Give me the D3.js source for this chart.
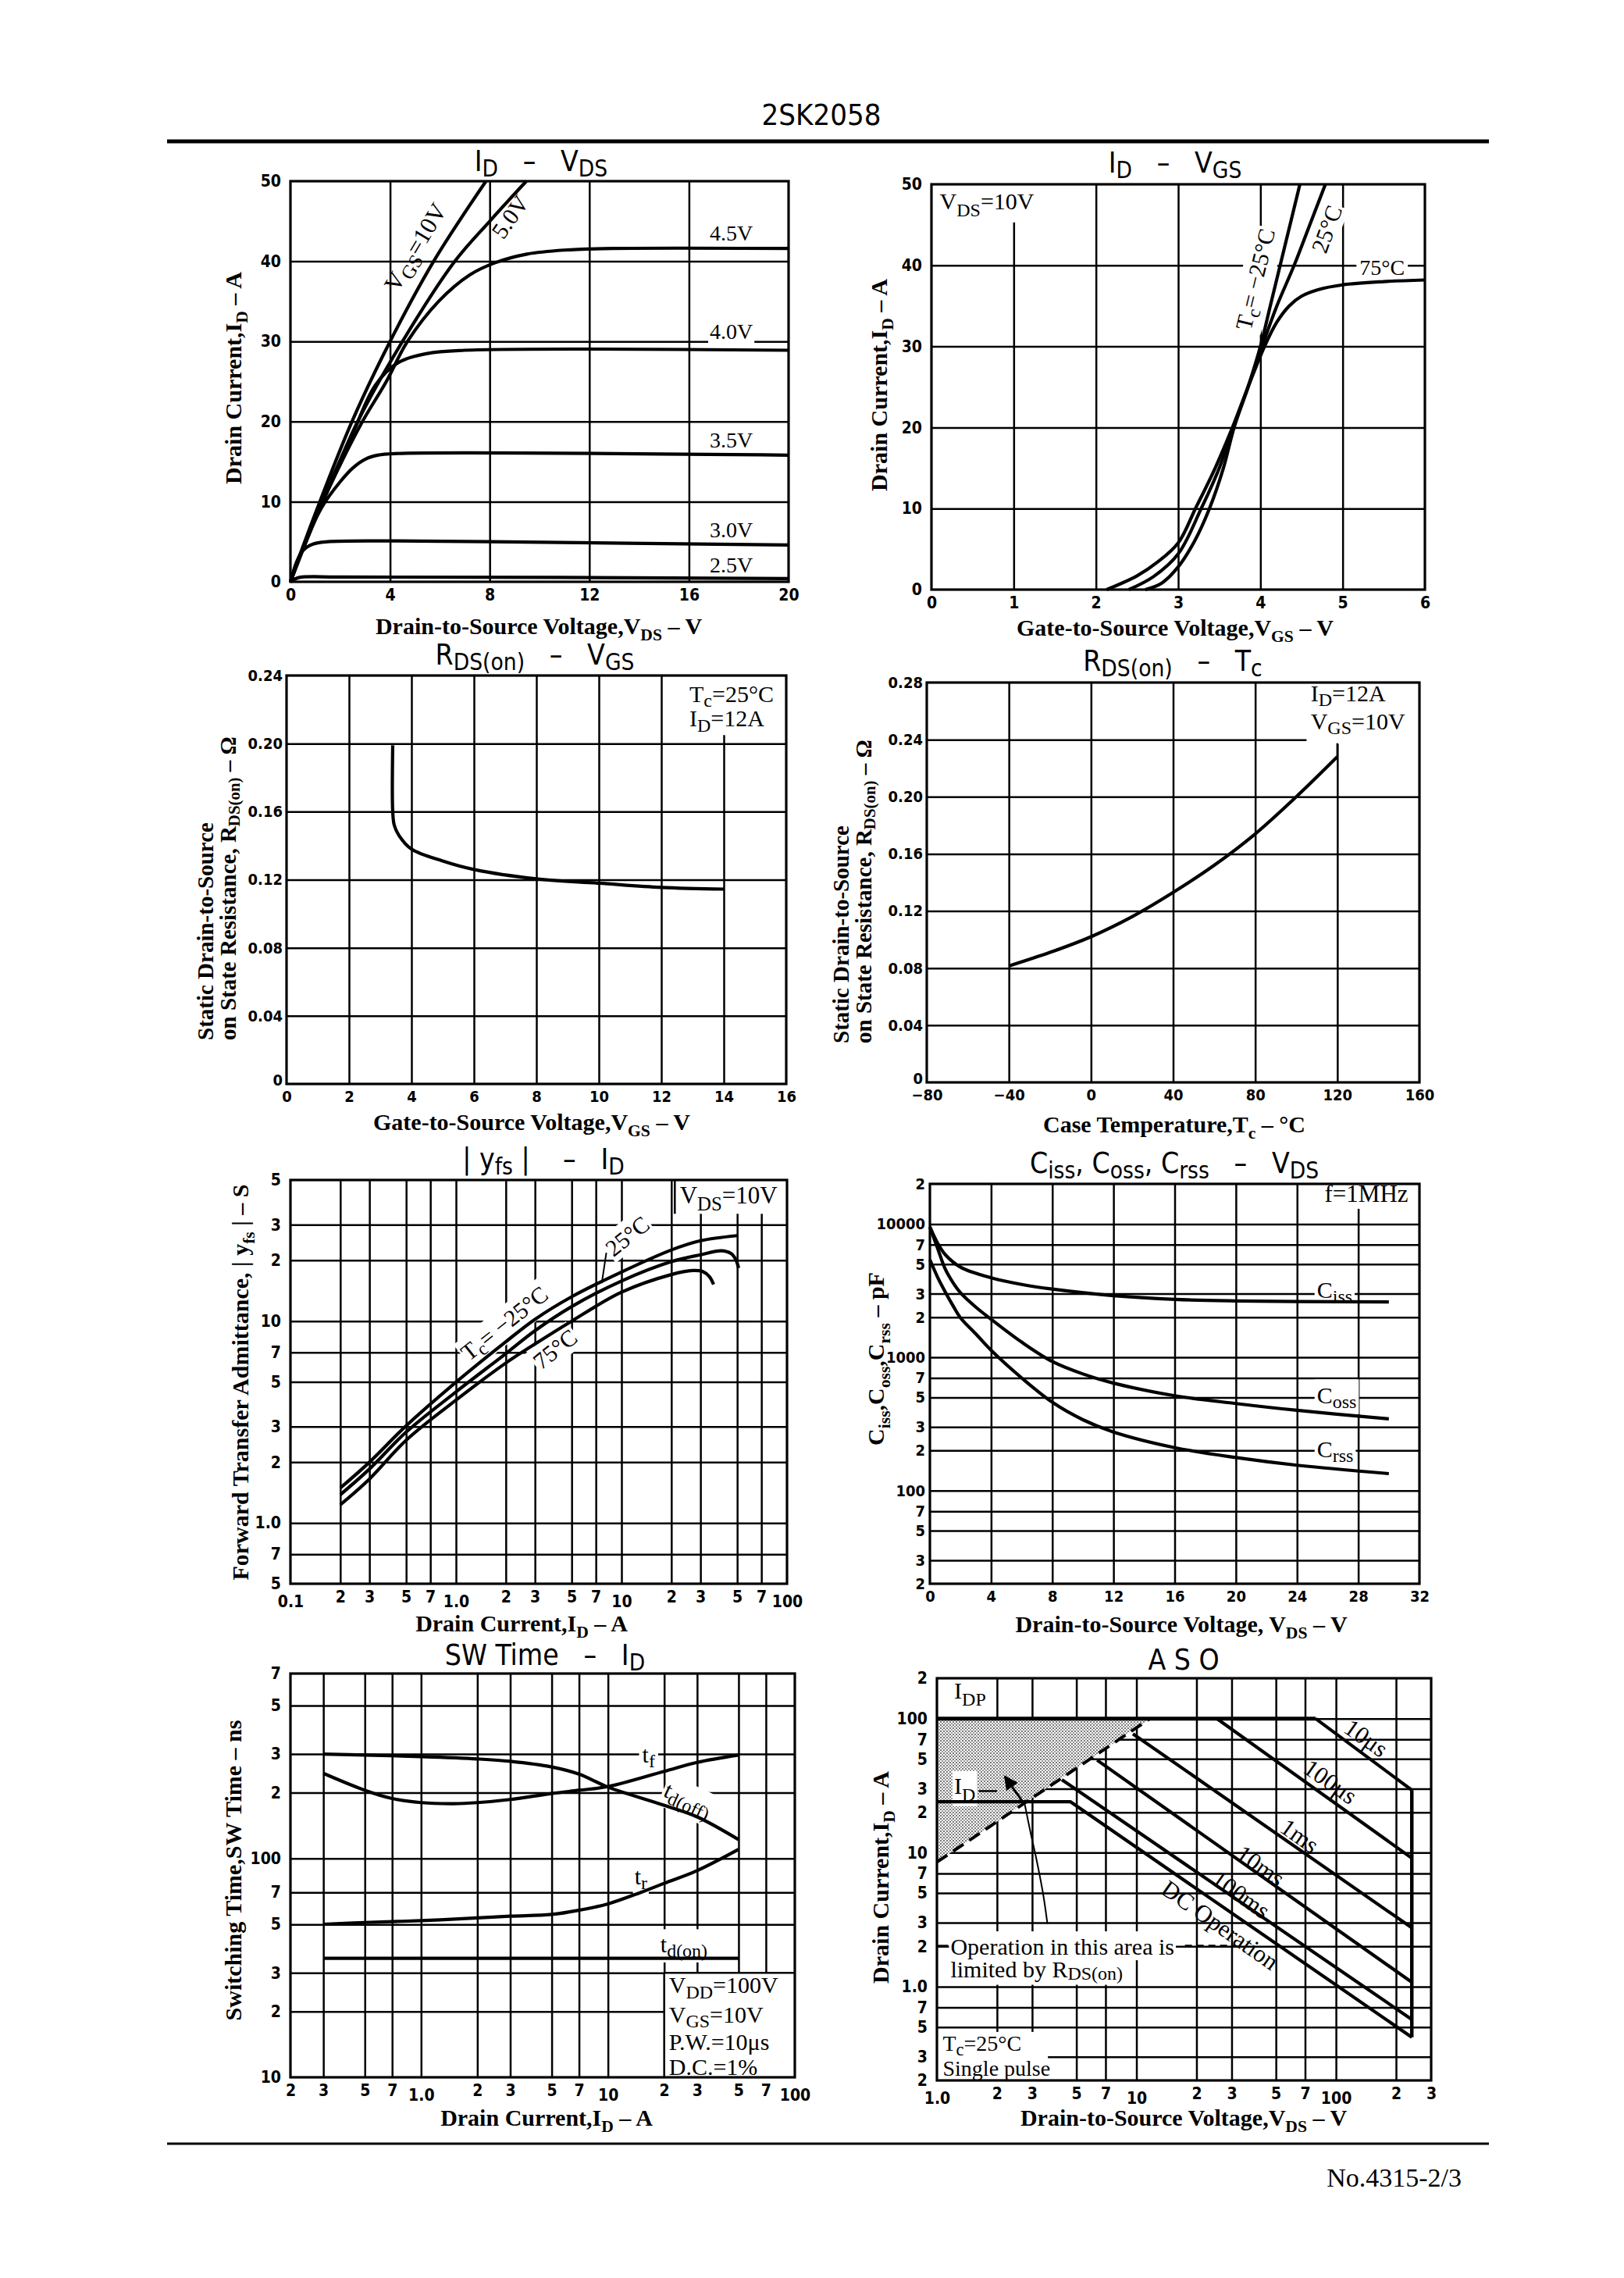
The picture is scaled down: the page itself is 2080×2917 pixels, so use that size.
<!DOCTYPE html>
<html><head><meta charset="utf-8">
<script src="https://cdn.jsdelivr.net/npm/d3@7"></script>
<style>body{margin:0;background:#fff}</style>
</head><body>
<script>
// ================= DATA =================
// Chart 1: ID – VDS
const c1XTicks=[0,4,8,12,16,20];
const c1YTicks=[0,10,20,30,40,50];
const c1Vgs10=[[0,0],[0.5,4.4],[1.18,10],[2.47,20],[4,30],[5.75,40],[7.85,50]];
const c1Vgs5=[[0,0],[0.6,4.8],[1.3,10],[2.7,20],[4.5,30],[6.6,40],[8,45],[9.47,50]];
const c1Vgs45=[[0,0],[0.6,4.8],[1.3,10],[2.8,19.5],[3.85,25],[4.7,30],[5.95,35],[7.2,38.3],[8.2,39.8],[9.5,40.9],[11,41.4],[13,41.6],[20,41.6]];
const c1Vgs40=[[0,0],[0.6,4.9],[1.25,10],[2.5,18.5],[3.4,24.5],[4.3,27.3],[5.5,28.5],[7,28.9],[20,28.9]];
const c1Vgs35=[[0,0],[0.6,5],[1.3,9.5],[2,12.5],[2.5,14.2],[3,15.3],[3.5,15.8],[4.2,16],[20,15.8]];
const c1Vgs30=[[0,0],[0.25,2.5],[0.5,3.9],[0.9,4.7],[1.5,5.0],[4,5.1],[8,5.0],[20,4.6]];
const c1Vgs25=[[0,0],[0.3,0.5],[2,0.6],[20,0.4]];
// Chart 2: ID – VGS
const c2XTicks=[0,1,2,3,4,5,6];
const c2YTicks=[0,10,20,30,40,50];
const c2Tm25=[[2.6,0],[2.8,0.8],[3.0,2.8],[3.2,6],[3.38,10],[3.55,15],[3.68,20],[3.85,25],[4.0,30],[4.12,35],[4.24,40],[4.36,45],[4.48,50]];
const c2T25=[[2.4,0],[2.7,1.6],[3.0,4.4],[3.28,10],[3.5,15],[3.67,20],[3.85,25],[4.02,30],[4.2,35],[4.41,40],[4.6,45],[4.79,50]];
const c2T75=[[2.13,0],[2.5,1.7],[2.75,3.4],[3.0,5.75],[3.21,10],[3.45,15],[3.66,20],[3.85,25],[4.05,30],[4.2,33],[4.35,35],[4.5,36.2],[4.7,37],[5,37.6],[5.5,38],[6,38.2]];
// Chart 3: RDS(on) – VGS
const c3XTicks=[0,2,4,6,8,10,12,14,16];
const c3YTicks=[0,0.04,0.08,0.12,0.16,0.20,0.24];
const c3YLabels=["0","0.04","0.08","0.12","0.16","0.20","0.24"];
const c3Rds=[[3.4,0.199],[3.4,0.16],[3.45,0.152],[3.6,0.146],[4,0.138],[5,0.131],[6,0.126],[8,0.1205],[10,0.118],[12,0.1155],[14,0.1145]];
// Chart 4: RDS(on) – Tc
const c4XTicks=[-80,-40,0,40,80,120,160];
const c4XLabels=["−80","−40","0","40","80","120","160"];
const c4YTicks=[0,0.04,0.08,0.12,0.16,0.20,0.24,0.28];
const c4YLabels=["0","0.04","0.08","0.12","0.16","0.20","0.24","0.28"];
const c4Rds=[[-40,0.0815],[-20,0.091],[0,0.102],[20,0.116],[40,0.133],[60,0.152],[80,0.174],[100,0.2],[120,0.228]];
// Chart 5: |yfs| – ID
const c5XTicks=[0.1,0.2,0.3,0.5,0.7,1,2,3,5,7,10,20,30,50,70,100];
const c5XLabels=["0.1","2","3","5","7","1.0","2","3","5","7","10","2","3","5","7","100"];
const c5YTicks=[0.5,0.7,1,2,3,5,7,10,20,30,50];
const c5YLabels=["5","7","1.0","2","3","5","7","10","2","3","5"];
const c5Tm25=[[0.2,1.49],[0.3,2.0],[0.5,3.03],[1,4.98],[2,7.9],[3,10.2],[5,13.2],[10,17.5],[20,22.5],[30,25],[50,26.5]];
const c5T25=[[0.2,1.38],[0.3,1.85],[0.5,2.82],[1,4.46],[2,6.9],[3,8.96],[5,11.8],[10,15.8],[20,19.7],[30,21.3],[40,22.3],[46,21.6],[49,20.2],[51,18.3]];
const c5T75=[[0.2,1.23],[0.3,1.65],[0.5,2.57],[1,4.06],[2,6.2],[3,7.7],[5,10],[10,13.9],[20,17],[27,17.8],[31,17.6],[34,16.6],[36,15.2]];
// Chart 6: Ciss, Coss, Crss – VDS
const c6XTicks=[0,4,8,12,16,20,24,28,32];
const c6YTicks=[20,30,50,70,100,200,300,500,700,1000,2000,3000,5000,7000,10000,20000];
const c6YLabels=["2","3","5","7","100","2","3","5","7","1000","2","3","5","7","10000","2"];
const c6Ciss=[[0,9500],[0.5,7200],[1,5900],[2,4750],[4,3950],[6,3520],[8,3250],[12,2900],[16,2720],[20,2650],[24,2620],[30,2600]];
const c6Coss=[[0,9500],[0.5,6600],[1,4600],[1.5,3650],[2,3050],[3,2380],[4,1930],[6,1300],[8,930],[10,750],[12,640],[16,515],[20,450],[24,400],[30,345]];
const c6Crss=[[0,5400],[0.5,4000],[1,3100],[1.5,2450],[2,1980],[3,1500],[4,1130],[6,700],[8,460],[10,340],[12,275],[16,210],[20,177],[24,155],[30,134]];
// Chart 7: SW Time – ID
const c7XTicks=[0.2,0.3,0.5,0.7,1,2,3,5,7,10,20,30,50,70,100];
const c7XLabels=["2","3","5","7","1.0","2","3","5","7","10","2","3","5","7","100"];
const c7YTicks=[10,20,30,50,70,100,200,300,500,700];
const c7YLabels=["10","2","3","5","7","100","2","3","5","7"];
const c7Tdoff=[[0.3,300],[0.5,297],[1,292],[2,285],[3,278],[5,262],[7,243],[10,212],[20,175],[30,155],[50,122]];
const c7Tf=[[0.3,245],[0.5,205],[0.7,188],[1,180],[1.5,178],[2,180],[3,186],[5,198],[7,205],[10,213],[20,250],[30,275],[50,297]];
const c7Tr=[[0.3,50],[0.5,51],[1,52],[2,53.5],[3,54.5],[5,55.5],[7,58],[10,62],[15,70],[20,77],[30,88],[50,110]];
const c7Tdon=[[0.3,35],[50,35]];
// Chart 8: ASO
const c8XTicks=[1,2,3,5,7,10,20,30,50,70,100,200,300];
const c8XLabels=["1.0","2","3","5","7","10","2","3","5","7","100","2","3"];
const c8YTicks=[0.2,0.3,0.5,0.7,1,2,3,5,7,10,20,30,50,70,100,200];
const c8YLabels=["2","3","5","7","1.0","2","3","5","7","10","2","3","5","7","100","2"];
const c8Idp=[[1,100],[79,100]];
const c810us=[[79,100],[240,29.3]];
const c8100us=[[25.3,100],[240,9.1]];
const c81ms=[[9.6,77],[240,2.75]];
const c810ms=[[6.35,49],[240,1.08]];
const c8100ms=[[4.23,35],[240,0.57]];
const c8Dc=[[1,24],[4.66,24],[240,0.42]];
const c8Vdss=[[240,29.3],[240,0.42]];
const c8RdsLimit=[[1,8.5],[11.7,100]];
const c8Shade=[[1,100],[11.7,100],[1,8.5]];
const c8Arrow=[[3.58,2.95],[3.4,5],[3.15,9],[2.95,14],[2.76,22.7]];

// ================= RENDER =================
const F_TICK='"Liberation Sans Narrow","DejaVu Sans Condensed","Liberation Sans",sans-serif';
const F_SERIF='"Liberation Serif","DejaVu Serif",serif';
const F_TITLE='"Liberation Sans Narrow","DejaVu Sans Condensed","Liberation Sans",sans-serif';

const svg=d3.select("body").append("svg").attr("width",2080).attr("height",2917).style("display","block");
svg.append("rect").attr("width",2080).attr("height",2917).attr("fill","#fff");
const defs=svg.append("defs");
const pat=defs.append("pattern").attr("id","stip").attr("width",4).attr("height",4).attr("patternUnits","userSpaceOnUse");
pat.append("rect").attr("width",4).attr("height",4).attr("fill","#fff");
pat.append("rect").attr("width",2).attr("height",2).attr("fill","#777");
pat.append("rect").attr("x",2).attr("y",2).attr("width",2).attr("height",2).attr("fill","#999");
defs.append("marker").attr("id","arr").attr("viewBox","0 0 10 10").attr("refX",9).attr("refY",5)
  .attr("markerWidth",7).attr("markerHeight",6).attr("orient","auto")
  .append("path").attr("d","M0,0L10,5L0,10z").attr("fill","#000");

function rich(parent,x,y,segs,o){
  const size=o.size;
  const t=parent.append("text").attr("x",x).attr("y",y)
    .attr("font-family",o.family).attr("font-size",size)
    .attr("font-weight",o.weight||"normal").attr("text-anchor",o.anchor||"start")
    .attr("fill","#000").style("white-space","pre");
  if(o.rotate) t.attr("transform",`rotate(${o.rotate},${x},${y})`);
  if(o.ls) t.attr("letter-spacing",o.ls);
  if(o.db) t.attr("dominant-baseline",o.db);
  let cur=0;
  segs.forEach(s=>{
    let txt=s,mode=null;
    if(Array.isArray(s)){txt=s[0];mode=s[1];}
    const target=mode==="sub"?size*(o.subShift||0.3):0;
    const ts=t.append("tspan").text(txt);
    if(target-cur!==0) ts.attr("dy",target-cur);
    if(mode) ts.attr("font-size",size*(o.subScale||0.8));
    cur=target;
  });
  return t;
}

function buildChart(c){
  const root=svg.append("g");
  const Ly={grid:root.append("g"),bg:root.append("g"),curves:root.append("g"),frame:root.append("g"),text:root.append("g")};
  const x=c.x.range([c.L,c.R]), y=c.y.range([c.B,c.T]);
  const w=c.R-c.L,h=c.B-c.T;
  const styleGrid=g=>{g.select(".domain").remove();g.selectAll(".tick line").attr("stroke","#000").attr("stroke-width",c.gw||2.5);g.selectAll(".tick text").remove();};
  Ly.grid.append("g").attr("transform",`translate(0,${c.B})`)
    .call(d3.axisBottom(x).tickValues(c.xGrid).tickSize(-h).tickFormat(()=>"")).call(styleGrid);
  Ly.grid.append("g").attr("transform",`translate(${c.L},0)`)
    .call(d3.axisLeft(y).tickValues(c.yGrid).tickSize(-w).tickFormat(()=>"")).call(styleGrid);
  Ly.frame.append("rect").attr("x",c.L).attr("y",c.T).attr("width",w).attr("height",h)
    .attr("fill","none").attr("stroke","#000").attr("stroke-width",3.2);
  const fs=c.tfs||21;
  const xa=Ly.text.append("g").attr("transform",`translate(0,${c.B})`)
    .call(d3.axisBottom(x).tickValues(c.xTicks).tickFormat((d,i)=>c.xLabels?c.xLabels[i]:String(d)).tickSize(0).tickPadding(9));
  xa.select(".domain").remove();
  xa.attr("font-family",F_TICK).attr("font-size",fs);
  xa.selectAll("text").attr("font-weight","bold").attr("fill","#000");
  if(c.xMajor) xa.selectAll(".tick").filter(d=>c.xMajor.includes(d)).select("text").attr("dy","0.98em");
  const ya=Ly.text.append("g").attr("transform",`translate(${c.L},0)`)
    .call(d3.axisLeft(y).tickValues(c.yTicks).tickFormat((d,i)=>c.yLabels?c.yLabels[i]:String(d)).tickSize(0).tickPadding(c.ypad||12));
  ya.select(".domain").remove();
  ya.attr("font-family",F_TICK).attr("font-size",fs);
  ya.selectAll("text").attr("font-weight","bold").attr("fill","#000");
  if(c.yZeroUp) ya.selectAll(".tick").filter(d=>d===c.yTicks[0]).select("text").attr("dy","0.05em");
  const line=d3.line().x(d=>x(d[0])).y(d=>y(d[1])).curve(d3.curveCatmullRom.alpha(0.5));
  const straight=d3.line().x(d=>x(d[0])).y(d=>y(d[1]));
  const ch={x,y,Ly,c};
  ch.curve=(data,o={})=>Ly.curves.append("path").attr("d",(o.straight?straight:line)(data))
    .attr("fill",o.fill||"none").attr("stroke",o.stroke||"#000").attr("stroke-width",o.w||4.2)
    .attr("stroke-dasharray",o.dash||null).attr("stroke-linejoin","round").attr("stroke-linecap",o.cap||"butt")
    .attr("marker-end",o.marker||null);
  ch.label=(xv,yv,segs,o={})=>{
    const px=x(xv),py=y(yv);
    const t=rich(Ly.text,px,py,segs,Object.assign({family:F_SERIF,size:30},o));
    if(o.bg!==false){
      const b=t.node().getBBox();const p=o.pad??2;
      const r=Ly.bg.append("rect").attr("x",b.x-p).attr("y",b.y-p).attr("width",b.width+2*p).attr("height",b.height+2*p).attr("fill","#fff");
      if(o.rotate) r.attr("transform",`rotate(${o.rotate},${px},${py})`);
    }
    return t;
  };
  ch.box=(x0,y0,x1,y1)=>Ly.bg.append("rect").attr("x",Math.min(x(x0),x(x1))).attr("y",Math.min(y(y0),y(y1)))
    .attr("width",Math.abs(x(x1)-x(x0))).attr("height",Math.abs(y(y1)-y(y0))).attr("fill","#fff");
  ch.seg=(p1,p2,wid,dash)=>Ly.frame.append("line").attr("x1",x(p1[0])).attr("y1",y(p1[1])).attr("x2",x(p2[0])).attr("y2",y(p2[1]))
    .attr("stroke","#000").attr("stroke-width",wid||2.5).attr("stroke-dasharray",dash||null);
  ch.angle=(p1,p2)=>Math.atan2(y(p2[1])-y(p1[1]),x(p2[0])-x(p1[0]))*180/Math.PI;
  return ch;
}
const lin=d=>d3.scaleLinear().domain(d);
const lg=d=>d3.scaleLog().domain(d);

const T_OPT={family:F_TITLE,size:37,anchor:"middle",subScale:0.8,subShift:0.18};
const AX_OPT={family:F_SERIF,size:30,weight:"bold",anchor:"middle",subScale:0.72,subShift:0.25};
const AX_V=(extra)=>Object.assign({},AX_OPT,{rotate:-90},extra||{});

// ---------- Header / footer ----------
rich(svg,1052,160,["2SK2058"],{family:F_TITLE,size:38,anchor:"middle"});
svg.append("line").attr("x1",214).attr("x2",1907).attr("y1",181).attr("y2",181).attr("stroke","#000").attr("stroke-width",5);
svg.append("line").attr("x1",214).attr("x2",1907).attr("y1",2745).attr("y2",2745).attr("stroke","#000").attr("stroke-width",3);
rich(svg,1872,2800,["No.4315-2/3"],{family:F_SERIF,size:34,anchor:"end"});

// ---------- Chart 1 ----------
{
const ch=buildChart({L:372,T:232,R:1010,B:745,x:lin([0,20]),y:lin([0,50]),
  xGrid:[4,8,12,16],yGrid:[10,20,30,40],xTicks:c1XTicks,yTicks:c1YTicks});
[c1Vgs10,c1Vgs5,c1Vgs45,c1Vgs40,c1Vgs35,c1Vgs30,c1Vgs25].forEach(d=>ch.curve(d));
const cl={anchor:"middle",size:28};
ch.label(17.7,42.6,["4.5V"],cl);
ch.label(17.7,30.3,["4.0V"],cl);
ch.label(17.7,16.8,["3.5V"],cl);
ch.label(17.7,5.6,["3.0V"],cl);
ch.label(17.7,1.2,["2.5V"],cl);
ch.label(5.0,41.8,["V",["GS","sub"],"=10V"],{anchor:"middle",db:"central",size:31,rotate:ch.angle([4,30],[7.85,50]),bg:false});
ch.label(8.8,45.6,["5.0V"],{anchor:"middle",db:"central",size:30,rotate:-55,bg:false});
rich(svg,693,219,["I",["D","sub"],"   –   V",["DS","sub"]],T_OPT);
rich(svg,690,812,["Drain-to-Source Voltage,V",["DS","sub"]," – V"],AX_OPT);
rich(svg,309,484,["Drain Current,I",["D","sub"]," – A"],AX_V());
}
// ---------- Chart 2 ----------
{
const ch=buildChart({L:1193,T:236,R:1825,B:755,x:lin([0,6]),y:lin([0,50]),
  xGrid:[1,2,3,4,5],yGrid:[10,20,30,40],xTicks:c2XTicks,yTicks:c2YTicks});
[c2Tm25,c2T25,c2T75].forEach(d=>ch.curve(d));
ch.box(0,50,1.3,45.3);
ch.label(0.1,46.9,["V",["DS","sub"],"=10V"],{bg:false});
ch.label(3.93,38.3,["T",["c","sub"],"= −25°C"],{anchor:"middle",db:"central",rotate:ch.angle([4.0,30],[4.48,50])});
ch.label(4.8,44.5,["25°C"],{anchor:"middle",db:"central",rotate:-70});
ch.label(5.48,39.8,["75°C"],{anchor:"middle",db:"central",size:28,pad:4});
rich(svg,1505,221,["I",["D","sub"],"   –   V",["GS","sub"]],T_OPT);
rich(svg,1505,814,["Gate-to-Source Voltage,V",["GS","sub"]," – V"],AX_OPT);
rich(svg,1136,493,["Drain Current,I",["D","sub"]," – A"],AX_V());
}
// ---------- Chart 3 ----------
{
const ch=buildChart({L:367,T:865,R:1007,B:1388,x:lin([0,16]),y:lin([0,0.24]),
  xGrid:[2,4,6,8,10,12,14],yGrid:[0.04,0.08,0.12,0.16,0.20],xTicks:c3XTicks,yTicks:c3YTicks,yLabels:c3YLabels,tfs:20,ypad:5,yZeroUp:true});
ch.curve(c3Rds);
ch.box(12.8,0.24,16,0.205);
ch.label(12.9,0.2245,["T",["c","sub"],"=25°C"],{bg:false,size:30,subShift:0.22});
ch.label(12.9,0.2100,["I",["D","sub"],"=12A"],{bg:false,size:30,subShift:0.22});
rich(svg,685,851,["R",["DS(on)","sub"],"   –   V",["GS","sub"]],T_OPT);
rich(svg,681,1447,["Gate-to-Source Voltage,V",["GS","sub"]," – V"],AX_OPT);
rich(svg,273,1332,["Static Drain-to-Source"],AX_V({anchor:"start",size:29}));
rich(svg,302,1332,["on State Resistance, R",["DS(on)","sub"]," – Ω"],AX_V({anchor:"start",size:29,subShift:0.18}));
}
// ---------- Chart 4 ----------
{
const ch=buildChart({L:1187,T:874,R:1818,B:1386,x:lin([-80,160]),y:lin([0,0.28]),
  xGrid:[-40,0,40,80,120],yGrid:[0.04,0.08,0.12,0.16,0.20,0.24],xTicks:c4XTicks,xLabels:c4XLabels,yTicks:c4YTicks,yLabels:c4YLabels,tfs:20,ypad:5,yZeroUp:true});
ch.curve(c4Rds);
ch.box(105,0.28,160,0.237);
ch.label(107,0.2668,["I",["D","sub"],"=12A"],{bg:false,size:30,subShift:0.2});
ch.label(107,0.2472,["V",["GS","sub"],"=10V"],{bg:false,size:30,subShift:0.2});
ch.seg([120,0.2375],[120,0.228],2.5);
rich(svg,1502,859,["R",["DS(on)","sub"],"   –   T",["c","sub"]],T_OPT);
rich(svg,1504,1450,["Case Temperature,T",["c","sub"]," – °C"],AX_OPT);
rich(svg,1087,1336,["Static Drain-to-Source"],AX_V({anchor:"start",size:29}));
rich(svg,1116,1336,["on State Resistance, R",["DS(on)","sub"]," – Ω"],AX_V({anchor:"start",size:29,subShift:0.18}));
}
// ---------- Chart 5 ----------
{
const ch=buildChart({L:372,T:1511,R:1008,B:2028,x:lg([0.1,100]),y:lg([0.5,50]),
  xGrid:[0.2,0.3,0.5,0.7,1,2,3,5,7,10,20,30,50,70],yGrid:[0.7,1,2,3,5,7,10,20,30],
  xTicks:c5XTicks,xLabels:c5XLabels,xMajor:[0.1,1,10,100],yTicks:c5YTicks,yLabels:c5YLabels});
[c5Tm25,c5T25,c5T75].forEach(d=>ch.curve(d));
ch.box(21,50,100,34);
ch.seg([21,50],[21,34],2.5);
ch.label(22.5,38.3,["V",["DS","sub"],"=10V"],{bg:false,size:31});
const a5=ch.angle([1,4.98],[3,10.2]);
ch.label(1.95,9.8,["T",["c","sub"],"= −25°C"],{anchor:"middle",db:"central",rotate:a5});
ch.label(3.95,7.3,["75°C"],{anchor:"middle",db:"central",rotate:a5});
ch.label(10.8,26.5,["25°C"],{anchor:"middle",db:"central",rotate:a5});
ch.seg([8.1,21.8],[7.6,15.4],2);
rich(svg,696,1497,["| y",["fs","sub"]," |    –   I",["D","sub"]],T_OPT);
rich(svg,668,2089,["Drain Current,I",["D","sub"]," – A"],AX_OPT);
rich(svg,318,1770,["Forward Transfer Admittance, | y",["fs","sub"]," | – S"],AX_V());
}
// ---------- Chart 6 ----------
{
const ch=buildChart({L:1191,T:1516,R:1818,B:2028,x:lin([0,32]),y:lg([20,20000]),
  xGrid:[4,8,12,16,20,24,28],yGrid:[30,50,70,100,200,300,500,700,1000,2000,3000,5000,7000,10000],
  xTicks:c6XTicks,yTicks:c6YTicks,yLabels:c6YLabels,tfs:20,ypad:6});
[c6Ciss,c6Coss,c6Crss].forEach(d=>ch.curve(d));
ch.box(25.6,20000,32,13000);
ch.label(25.8,14700,["f=1MHz"],{bg:false,size:31});
ch.label(25.3,3250,["C",["iss","sub"]],{db:"central",pad:3});
ch.label(25.3,525,["C",["oss","sub"]],{db:"central",pad:3});
ch.label(25.3,207,["C",["rss","sub"]],{db:"central",pad:3});
rich(svg,1504,1502,["C",["iss","sub"],", C",["oss","sub"],", C",["rss","sub"],"   –   V",["DS","sub"]],T_OPT);
rich(svg,1513,2090,["Drain-to-Source Voltage, V",["DS","sub"]," – V"],AX_OPT);
rich(svg,1132,1740,["C",["iss","sub"],",C",["oss","sub"],",C",["rss","sub"]," – pF"],AX_V());
}
// ---------- Chart 7 ----------
{
const ch=buildChart({L:372,T:2143,R:1018,B:2660,x:lg([0.2,100]),y:lg([10,700]),
  xGrid:[0.3,0.5,0.7,1,2,3,5,7,10,20,30,50,70],yGrid:[20,30,50,70,100,200,300,500],
  xTicks:c7XTicks,xLabels:c7XLabels,xMajor:[1,10,100],yTicks:c7YTicks,yLabels:c7YLabels});
[c7Tdoff,c7Tf,c7Tr,c7Tdon].forEach(d=>ch.curve(d));
ch.box(20,30,100,10);
ch.seg([20,30],[20,10],2.5);
ch.seg([20,30],[100,30],2.5);
const bx={bg:false,size:30,subShift:0.22};
ch.label(21.2,24.3,["V",["DD","sub"],"=100V"],bx);
ch.label(21.2,17.8,["V",["GS","sub"],"=10V"],bx);
ch.label(21.2,13.3,["P.W.=10μs"],bx);
ch.label(21.2,10.25,["D.C.=1%"],bx);
ch.label(16.5,300,["t",["f","sub"]],{anchor:"middle",db:"central",pad:4});
ch.label(27,188,["t",["d(off)","sub"]],{anchor:"middle",db:"central",rotate:ch.angle([20,175],[50,122])});
ch.label(15,83,["t",["r","sub"]],{anchor:"middle",db:"central"});
ch.label(25.5,40.8,["t",["d(on)","sub"]],{anchor:"middle",db:"central"});
rich(svg,698,2132,["SW Time   –   I",["D","sub"]],T_OPT);
rich(svg,700,2722,["Drain Current,I",["D","sub"]," – A"],AX_OPT);
rich(svg,309,2395,["Switching Time,SW Time – ns"],AX_V());
}
// ---------- Chart 8 ----------
{
const ch=buildChart({L:1200,T:2149,R:1833,B:2664,x:lg([1,300]),y:lg([0.2,200]),
  xGrid:[2,3,5,7,10,20,30,50,70,100,200],yGrid:[0.3,0.5,0.7,1,2,3,5,7,10,20,30,50,70,100],
  xTicks:c8XTicks,xLabels:c8XLabels,xMajor:[1,10,100],yTicks:c8YTicks,yLabels:c8YLabels});
ch.Ly.bg.append("path").attr("d",d3.line().x(d=>ch.x(d[0])).y(d=>ch.y(d[1]))(c8Shade)+"Z").attr("fill","url(#stip)");
ch.box(1,0.46,3.6,0.2);
ch.curve(c8Idp,{straight:true,w:5});
ch.curve(c810us,{straight:true});
ch.curve(c8100us,{straight:true});
ch.curve(c81ms,{straight:true});
ch.curve(c810ms,{straight:true});
ch.curve(c8100ms,{straight:true});
ch.curve(c8Dc,{straight:true});
ch.curve(c8Vdss,{straight:true,w:4.5});
ch.curve(c8RdsLimit,{straight:true,dash:"16,9",w:4});
ch.curve(c8Arrow,{w:2});
ch.curve([c8Arrow[c8Arrow.length-1],[2.19,37]],{straight:true,w:3,marker:"url(#arr)"});
const a8=ch.angle(c810ms[0],c810ms[1]);
const dl={anchor:"middle",db:"central",rotate:a8,bg:false,size:31};
ch.label(142,72,["10μs"],dl);
ch.label(94,34,["100μs"],dl);
ch.label(66,13.4,["1ms"],dl);
ch.label(42,8,["10ms"],dl);
ch.label(33.5,4.9,["100ms"],dl);
ch.label(26.3,2.9,["DC Operation"],dl);
ch.label(1.22,142,["I",["DP","sub"]],{});
ch.label(1.22,27.5,["I",["D","sub"]],{});
ch.seg([1.62,28.8],[2.0,28.8],2.5);
ch.label(1.17,2.02,["Operation in this area is"],{db:"central",size:30});
ch.label(1.17,1.37,["limited by R",["DS(on)","sub"]],{db:"central",size:30,subShift:0.2});
ch.seg([1.0,2.02],[1.14,2.02],2.5);
ch.seg([17.5,2.02],[31,2.02],2.5,"9,6");
ch.label(1.07,0.335,["T",["c","sub"],"=25°C"],{bg:false,size:28,subShift:0.22});
ch.label(1.07,0.217,["Single pulse"],{bg:false,size:28});
rich(svg,1516,2138,["A S O"],T_OPT);
rich(svg,1516,2722,["Drain-to-Source Voltage,V",["DS","sub"]," – V"],AX_OPT);
rich(svg,1138,2404,["Drain Current,I",["D","sub"]," – A"],AX_V());
}
</script>
</body></html>
